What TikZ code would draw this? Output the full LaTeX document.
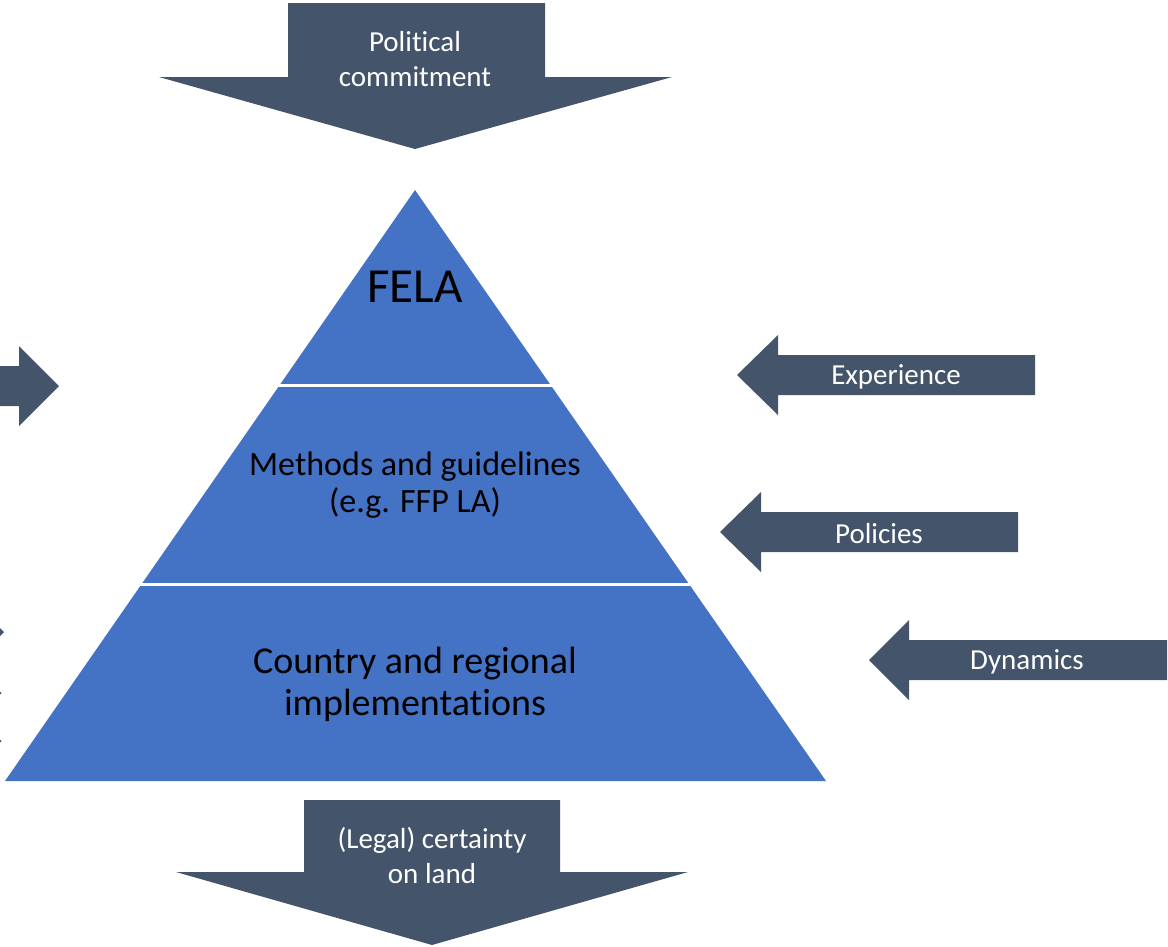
\documentclass[tikz,border=0pt]{standalone}
\usepackage{fontspec}
\setmainfont{Carlito}[RawFeature={-liga;-clig;-calt;-dlig}]
\usepackage{tikz}
\definecolor{arrowgrey}{HTML}{44546A}
\definecolor{pyrblue}{HTML}{4472C4}
\tikzstyle{arrowshape} = [fill=arrowgrey]
\tikzstyle{arrowtext} = [text=white, align=center, font=\fontsize{29}{35}\selectfont]
\tikzstyle{layertext} = [text=black, align=center]

\begin{document}
\begin{tikzpicture}[x=1pt, y=-1pt]
    \useasboundingbox (0,0) rectangle (1168,946);
    \clip (0,0) rectangle (1168,946);

    % pyramid
    \fill[pyrblue] (415,190) -- (826,781) -- (5,781) -- cycle;
    \draw[white, line width=3pt] (275,385) -- (555,385);
    \draw[white, line width=3pt] (138,584) -- (692,584);
    \node (fela) [layertext, font=\fontsize{49}{55}\selectfont] at (415,287) {FELA};
    \node (methods) [layertext, font=\fontsize{34}{37}\selectfont] at (415,485) {Methods and guidelines\\(e.g. FFP LA)};
    \node (country) [layertext, font=\fontsize{38}{42}\selectfont] at (415,684) {Country and regional\\implementations};

    % top and bottom arrows
    \fill[arrowshape] (288,3) -- (545,3) -- (545,77) -- (672,77) -- (415,149) -- (159,77) -- (288,77) -- cycle;
    \node (commit) [arrowtext] at (415,59) {Political\\commitment};
    \fill[arrowshape] (304,800) -- (560,800) -- (560,872) -- (688,872) -- (432,945) -- (176,872) -- (304,872) -- cycle;
    \node (certainty) [arrowtext] at (432,855) {(Legal) certainty\\on land};

    % right arrows
    \fill[arrowshape] (737,375) -- (778,335) -- (778,355) -- (1035,355) -- (1035,395) -- (778,395) -- (778,415) -- cycle;
    \node (experience) [arrowtext] at (896,377) {Experience};
    \fill[arrowshape] (720,532) -- (761,492) -- (761,512) -- (1018,512) -- (1018,552) -- (761,552) -- (761,572) -- cycle;
    \node (policies) [arrowtext] at (879,534) {Policies};
    \fill[arrowshape] (869,660) -- (909,620) -- (909,640) -- (1167,640) -- (1167,680) -- (909,680) -- (909,700) -- cycle;
    \node (dynamics) [arrowtext] at (1027,662) {Dynamics};

    % left arrows (cut off by the page)
    \fill[arrowshape] (59,386) -- (19,346) -- (19,366) -- (-240,366) -- (-240,406) -- (19,406) -- (19,426) -- cycle;
    \foreach \tx/\ty in {4/632, 1.5/693, 1.5/741}
        \fill[arrowshape] (\tx,\ty) -- (\tx-40,\ty-40) -- (\tx-40,\ty+40) -- cycle;
\end{tikzpicture}
\end{document}
